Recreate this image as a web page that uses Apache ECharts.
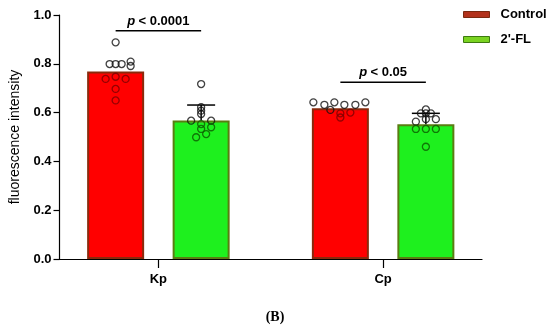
<!DOCTYPE html>
<html>
<head>
<meta charset="utf-8">
<script src="https://cdn.jsdelivr.net/npm/echarts@6/dist/echarts.min.js"></script>
<style>html,body{margin:0;padding:0;background:#fff}#c{width:550px;height:326px}</style>
</head>
<body>
<div id="c"></div>
<script>
const categories = ['Kp', 'Cp'];
const seriesNames = ['Control', "2'-FL"];
const controlMeans = [0.768, 0.618];
const flMeans = [0.568, 0.552];
const flSD = [0.063, 0.045];
const controlPoints = [
  [0.888, 0.799, 0.799, 0.799, 0.809, 0.791, 0.738, 0.747, 0.738, 0.697, 0.650],
  [0.642, 0.632, 0.642, 0.632, 0.632, 0.642, 0.611, 0.597, 0.580, 0.600]
];
const flPoints = [
  [0.717, 0.622, 0.608, 0.594, 0.567, 0.567, 0.553, 0.540, 0.533, 0.512, 0.499],
  [0.613, 0.597, 0.597, 0.597, 0.563, 0.573, 0.573, 0.533, 0.533, 0.533, 0.460]
];
const sigLevels = [0.935, 0.724];
const sigLabels = ['< 0.0001', '< 0.05'];
const yTicks = [0.0, 0.2, 0.4, 0.6, 0.8, 1.0];
const figureLabel = '(B)';

// layout (pixels)
const BAR_W = 57;
const BAR_GAP = 0.5;
const HALF = (BAR_W + BAR_W * BAR_GAP) / 2;
const jitterCtrl = [[0,-6,0,6,15,15,-10,0,10,0,0],[-27,-16,-6,4,15,25,-10,0,0,10]];
const jitterFL = [[0,0,0,0,-10,10,0,10,0,5,-5],[0,-5,0,5,-10,0,10,-10,0,10,0]];

const font = 'Liberation Sans, Arial, sans-serif';

function pointData(points, means, jit, side, insideColor) {
  const out = [];
  points.forEach((arr, gi) => {
    arr.forEach((v, i) => {
      out.push({
        value: [gi, v],
        symbolOffset: [side * HALF + jit[gi][i], 0],
        itemStyle: { borderColor: v < means[gi] - 0.008 ? insideColor : '#111' }
      });
    });
  });
  return out;
}

const chart = echarts.init(document.getElementById('c'), null, { renderer: 'canvas' });
chart.setOption({
  animation: false,
  backgroundColor: '#fff',
  title: {
    text: figureLabel,
    left: 'center',
    top: 305,
    textStyle: { fontFamily: 'Liberation Serif, Times New Roman, serif', fontSize: 14, fontWeight: 'bold', color: '#000' }
  },
  legend: {
    orient: 'vertical',
    left: 458,
    top: 3,
    itemWidth: 26,
    itemHeight: 6,
    itemGap: 12,
    textStyle: { fontFamily: font, fontSize: 13, fontWeight: 'bold', color: '#000', padding: [0, 0, 0, 6] },
    data: [
      { name: seriesNames[0], icon: 'rect', itemStyle: { color: '#b2321c', borderColor: '#7a2a10', borderWidth: 1 } },
      { name: seriesNames[1], icon: 'rect', itemStyle: { color: '#7ad321', borderColor: '#3d7a10', borderWidth: 1 } }
    ]
  },
  grid: { left: 55, right: 68, top: 15, bottom: 67 },
  xAxis: {
    type: 'value',
    min: -0.44,
    max: 1.44,
    splitLine: { show: false },
    axisLine: { show: true, onZero: false, lineStyle: { color: '#000', width: 1.2 } },
    axisTick: { show: true, customValues: [0, 1], length: 9, lineStyle: { color: '#000', width: 1.2 } },
    axisLabel: {
      customValues: [0, 1],
      formatter: v => categories[Math.round(v)] || '',
      fontFamily: font, fontSize: 13, fontWeight: 'bold', color: '#000', margin: 14
    }
  },
  yAxis: {
    type: 'value',
    min: yTicks[0],
    max: yTicks[yTicks.length - 1],
    interval: 0.2,
    name: 'fluorescence intensity',
    nameLocation: 'middle',
    nameGap: 37.5,
    nameTextStyle: { fontFamily: font, fontSize: 14, color: '#000' },
    splitLine: { show: false },
    axisLine: { show: true, onZero: false, lineStyle: { color: '#000', width: 1.2 } },
    axisTick: { show: true, length: 6, lineStyle: { color: '#000', width: 1.2 } },
    axisLabel: { formatter: v => v.toFixed(1), fontFamily: font, fontSize: 13, fontWeight: 'bold', color: '#000', margin: 8 }
  },
  series: [
    {
      name: seriesNames[0], type: 'bar', z: 2,
      barWidth: BAR_W, barGap: (BAR_GAP * 100) + '%',
      itemStyle: { color: '#ff0000', borderColor: '#8a2a0c', borderWidth: 2 },
      data: controlMeans.map((v, i) => [i, v])
    },
    {
      name: seriesNames[1], type: 'bar', z: 2,
      barWidth: BAR_W, barGap: (BAR_GAP * 100) + '%',
      itemStyle: { color: '#1ef01e', borderColor: '#5a7d12', borderWidth: 2 },
      data: flMeans.map((v, i) => [i, v])
    },
    {
      name: 'err', type: 'custom', z: 3,
      data: flMeans.map((v, i) => [i, v, flSD[i]]),
      renderItem: function (params, api) {
        const i = api.value(0), m = api.value(1), s = api.value(2);
        const p0 = api.coord([i, m]);
        const p1 = api.coord([i, m + s]);
        const x = p0[0] + HALF;
        return {
          type: 'group',
          children: [
            { type: 'line', shape: { x1: x, y1: p0[1], x2: x, y2: p1[1] }, style: { stroke: '#000', lineWidth: 1.5 } },
            { type: 'line', shape: { x1: x - 14, y1: p1[1], x2: x + 14, y2: p1[1] }, style: { stroke: '#000', lineWidth: 1.5 } }
          ]
        };
      }
    },
    {
      name: 'ctrlPts', type: 'scatter', z: 4,
      symbol: 'circle', symbolSize: 7,
      itemStyle: { color: 'rgba(0,0,0,0)', borderWidth: 1.3 },
      data: pointData(controlPoints, controlMeans, jitterCtrl, -1, '#7a0000')
    },
    {
      name: 'flPts', type: 'scatter', z: 4,
      symbol: 'circle', symbolSize: 7,
      itemStyle: { color: 'rgba(0,0,0,0)', borderWidth: 1.3 },
      data: pointData(flPoints, flMeans, jitterFL, 1, '#0d5a00')
    },
    {
      name: 'sig', type: 'custom', z: 5,
      data: sigLevels.map((v, i) => [i, v, i]),
      renderItem: function (params, api) {
        const i = api.value(0), lv = api.value(1);
        const p = api.coord([i, lv]);
        return {
          type: 'group',
          children: [
            { type: 'line', shape: { x1: p[0] - HALF, y1: p[1], x2: p[0] + HALF, y2: p[1] }, style: { stroke: '#000', lineWidth: 1.5 } },
            {
              type: 'text',
              style: {
                x: p[0], y: p[1] - 3,
                text: '{i|p} {b|' + sigLabels[api.value(2)] + '}',
                align: 'center', verticalAlign: 'bottom',
                rich: {
                  i: { fontFamily: font, fontSize: 13, fontWeight: 'bold', fontStyle: 'italic', fill: '#000' },
                  b: { fontFamily: font, fontSize: 13, fontWeight: 'bold', fill: '#000' }
                }
              }
            }
          ]
        };
      }
    }
  ]
});
</script>
</body>
</html>
